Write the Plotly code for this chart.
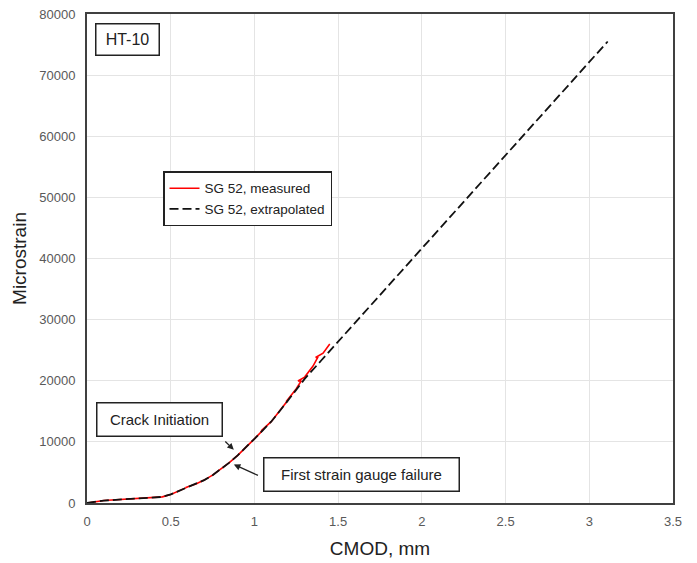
import plotly.graph_objects as go

# ---- data ----
measured_x = [0.0, 0.05, 0.1, 0.15, 0.2, 0.25, 0.3, 0.35, 0.34, 0.4, 0.45, 0.5, 0.55, 0.6, 0.59,
              0.65, 0.7, 0.75, 0.8, 0.85, 0.9, 0.95, 1.0, 1.05, 1.04, 1.1, 1.15, 1.14, 1.2, 1.19,
              1.25, 1.28, 1.26, 1.3, 1.35, 1.38, 1.365, 1.41, 1.45]
measured_y = [0, 250, 400, 480, 560, 620, 700, 780, 760, 860, 1000, 1400, 2000, 2600, 2550,
              3100, 3750, 4550, 5500, 6600, 7800, 9100, 10500, 11900, 11800, 13300, 15000, 14800, 16800, 16600,
              18700, 20000, 19950, 20600, 22400, 23900, 23800, 24500, 26000]

extrap_x = [0.0, 0.05, 0.1, 0.15, 0.2, 0.25, 0.3, 0.35, 0.4, 0.45, 0.5, 0.55, 0.6, 0.65, 0.7,
            0.75, 0.8, 0.85, 0.9, 0.95, 1.0, 1.05, 1.1, 1.15, 1.2, 1.25, 1.3, 1.4, 1.6, 2.0, 2.5, 3.11]
extrap_y = [0, 250, 400, 480, 560, 620, 700, 780, 860, 1000, 1400, 2000, 2600, 3100, 3750,
            4550, 5500, 6600, 7800, 9100, 10500, 11900, 13300, 15000, 16800, 18600, 20300, 23350, 29450, 41650, 56900, 75500]

x_ticks = [0, 0.5, 1, 1.5, 2, 2.5, 3, 3.5]
x_ticklabels = ["0", "0.5", "1", "1.5", "2", "2.5", "3", "3.5"]
y_ticks = [0, 10000, 20000, 30000, 40000, 50000, 60000, 70000, 80000]
y_ticklabels = ["0", "10000", "20000", "30000", "40000", "50000", "60000", "70000", "80000"]

FONT = "Liberation Sans, Arial, sans-serif"

fig = go.Figure()
fig.add_trace(go.Scatter(x=measured_x, y=measured_y, mode="lines", name="SG 52, measured",
                         line=dict(color="#ff0000", width=1.6)))
fig.add_trace(go.Scatter(x=extrap_x, y=extrap_y, mode="lines", name="SG 52, extrapolated",
                         line=dict(color="#111111", width=1.8, dash="9px,4px")))

fig.update_layout(
    width=697, height=563,
    margin=dict(l=87, r=24, t=14, b=60),
    plot_bgcolor="white", paper_bgcolor="white",
    font=dict(family=FONT, color="#404040"),
    showlegend=True,
    legend=dict(x=0.1297, y=0.678, xanchor="left", yanchor="top",
                bordercolor="#222222", borderwidth=1.5, bgcolor="white",
                font=dict(size=13.5, color="#222222", family=FONT),
                tracegroupgap=0, itemwidth=30),
    xaxis=dict(range=[0, 3.5], tickvals=x_ticks, ticktext=x_ticklabels, automargin=False,
               showgrid=True, gridcolor="#e4e4e4", gridwidth=1,
               showline=True, linecolor="#404040", linewidth=1.8, mirror=True,
               ticks="outside", ticklen=5, tickcolor="rgba(0,0,0,0)",
               tickfont=dict(size=13, color="#595959"), zeroline=False,
               title=dict(text="CMOD, mm", font=dict(size=19, color="#222222"), standoff=14)),
    yaxis=dict(range=[0, 80000], tickvals=y_ticks, ticktext=y_ticklabels, automargin=False,
               showgrid=True, gridcolor="#e4e4e4", gridwidth=1,
               showline=True, linecolor="#404040", linewidth=1.8, mirror=True,
               ticks="outside", ticklen=7, tickcolor="rgba(0,0,0,0)",
               tickfont=dict(size=13, color="#595959"), zeroline=False,
               title=dict(text="Microstrain", font=dict(size=19, color="#222222"), standoff=8)),
)

box = dict(showarrow=False, bordercolor="#222222", borderwidth=1.5, bgcolor="white",
           xref="x", yref="y", xanchor="center", yanchor="middle")
fig.add_annotation(text="HT-10", x=0.239, y=75800, width=60, height=28, borderpad=1,
                   font=dict(size=16, color="#222222", family=FONT), **box)
fig.add_annotation(text="Crack Initiation", x=0.433, y=13740, width=122, height=30, borderpad=1,
                   font=dict(size=15, color="#222222", family=FONT), **box)
fig.add_annotation(text="First strain gauge failure", x=1.638, y=4744, width=192, height=30, borderpad=1,
                   font=dict(size=15, color="#222222", family=FONT), **box)

arrow = dict(text="", showarrow=True, arrowhead=2, arrowsize=1, arrowwidth=1.3, arrowcolor="#222222",
             xref="x", yref="y", axref="x", ayref="y")
fig.add_annotation(x=0.877, y=8700, ax=0.817, ay=10300, **arrow)
fig.add_annotation(x=0.877, y=6300, ax=1.03, ay=4400, **arrow)

fig.write_html("out.html")
